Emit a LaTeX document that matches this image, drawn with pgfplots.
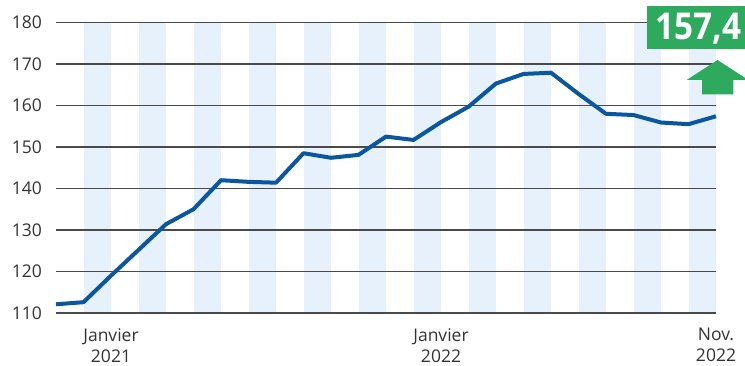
\documentclass[border=0pt]{standalone}
\usepackage{pgfplots}
\usepackage{pgfplotstable}
\pgfplotsset{compat=1.18}
\usepackage{fontspec}
\setmainfont{Open Sans}

\definecolor{lineblue}{HTML}{0A56A0}
\definecolor{bandblue}{HTML}{E6F1FB}
\definecolor{gridgray}{HTML}{4A4A4A}
\definecolor{labelgreen}{HTML}{2EAA5E}
\definecolor{textgray}{HTML}{333333}

% Monthly index, Nov. 2020 (0) to Nov. 2022 (24)
\pgfplotstableread{
idx value
0  112.1
1  112.6
2  119.0
3  125.2
4  131.4
5  135.0
6  142.0
7  141.6
8  141.4
9  148.5
10 147.4
11 148.1
12 152.5
13 151.7
14 156.0
15 159.7
16 165.3
17 167.6
18 167.9
19 162.8
20 158.0
21 157.7
22 155.9
23 155.5
24 157.4
}\indexdata

\begin{document}
\begin{tikzpicture}
\begin{axis}[
  set layers,
  at={(56pt,53pt)}, anchor=south west,
  scale only axis, width=660pt, height=290.5pt,
  xmin=0, xmax=24, ymin=110, ymax=180,
  ytick={110,120,...,180},
  xtick={2,14,24},
  xticklabels={{Janvier\\2021},{Janvier\\2022},{Nov.\\2022}},
  axis line style={draw=none},
  major tick length=0pt,
  ymajorgrids,
  grid style={gridgray, line width=1.3pt},
  tick label style={font=\fontsize{17.5}{21}\selectfont, text=textgray},
  /pgf/number format/assume math mode=true,
  yticklabel style={anchor=east, inner sep=0pt, xshift=-14pt},
  xticklabel style={align=center, anchor=north, inner sep=0pt, yshift=-15pt},
  clip=false,
]
% alternating month bands
\begin{pgfonlayer}{axis background}
\pgfplotsinvokeforeach{1,3,5,7,9,11,13,15,17,19,21,23}{
  \fill[bandblue] (axis cs:#1,110) rectangle (axis cs:\the\numexpr#1+1\relax,180);
}
\end{pgfonlayer}
\addplot[lineblue, line width=4pt, line join=round] table[x=idx, y=value]{\indexdata};
\end{axis}

% latest value badge and arrow
\begin{scope}[x=1pt,y=1pt]
\fill[labelgreen] (647,317) rectangle (745,360);
\node[anchor=base, inner sep=0pt, text=white, font=\bfseries\fontsize{37}{37}\selectfont]
  at (698.5,326) {\scalebox{0.9}[1]{157,4}};
\fill[labelgreen] (717.5,306) -- (748.3,286) -- (733.3,286) -- (733.3,271.7)
  -- (702,271.7) -- (702,286) -- (686.7,286) -- cycle;
\pgfresetboundingbox
\path[use as bounding box] (0,0) rectangle (745,366);
\end{scope}
\end{tikzpicture}
\end{document}
